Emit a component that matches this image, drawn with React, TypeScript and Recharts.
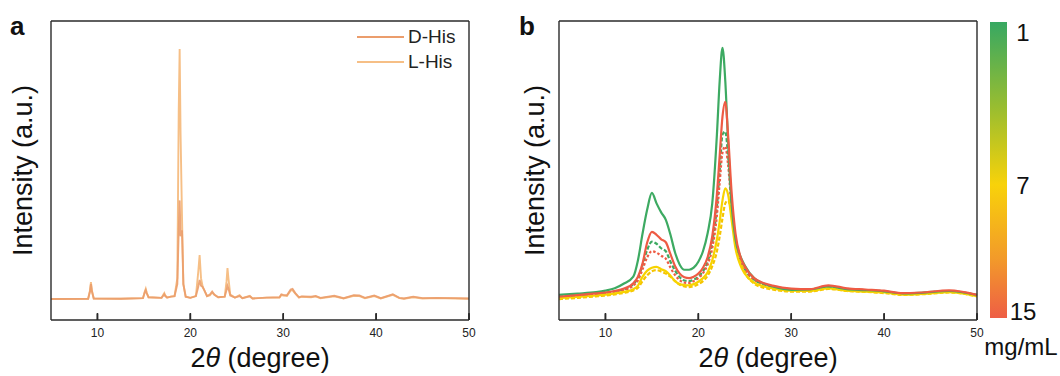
import React from 'react';
import { ComposedChart, Line, Scatter, XAxis, YAxis, Legend, Label } from 'recharts';

const FONT = '"Liberation Sans", Arial, sans-serif';
const FRAME = '#2a2a2a';

// ---- panel a: powder XRD, D-His vs L-His ----
const thetaA = [
  5, 9.0, 9.2, 9.3, 9.4, 9.6, 12.5, 14.9, 15.1, 15.2, 15.3, 15.5, 16.9, 17.1, 17.2, 17.3, 17.5, 17.9,
  18.3, 18.6, 18.75, 18.85, 18.95, 19.1, 19.25, 19.5, 20.0, 20.6, 20.85, 21.0, 21.15, 21.35, 21.5,
  21.8, 22.1, 22.35, 22.6, 23.0, 23.7, 23.9, 24.0, 24.1, 24.3, 24.8, 25.3, 25.6, 26.4, 26.7, 28.2,
  29.6, 29.8, 30.0, 30.4, 30.8, 31.0, 31.3, 31.7, 32.0, 33.0, 33.5, 34.0, 35.5, 36.5, 37.6, 38.2,
  38.8, 39.8, 40.5, 41.8, 42.5, 43.0, 44.0, 45.0, 46.5, 48.5, 50,
];
const dHis = [
  7.0, 7.1, 9.5, 12, 9.6, 7.2, 7.1, 7.3, 9.3, 10.0, 9.0, 7.6, 7.4, 8.2, 8.6, 8.0, 7.5, 7.8,
  8, 12, 30, 40, 28, 30, 12, 7.8, 7.4, 8, 11, 13.4, 11.5, 11, 10,
  8, 8.5, 9.5, 8.4, 7.6, 7.8, 10, 11.4, 10.5, 8.2, 7.5, 8.0, 7.3, 7.9, 7.2, 7.5,
  7.6, 8.6, 8.4, 8.3, 10.2, 10.4, 9.0, 7.6, 7.9, 7.8, 8.0, 7.4, 8.1, 7.3, 8.3, 8.2,
  7.4, 8.2, 7.3, 8.6, 7.4, 7.2, 7.8, 7.3, 7.4, 7.3, 7.2,
];
const lHis = [
  7.0, 7.1, 10, 12.7, 10, 7.2, 7.1, 7.3, 9.5, 10.4, 9.2, 7.6, 7.4, 8.5, 9.0, 8.2, 7.5, 7.8,
  8, 14, 70, 90.6, 62, 35, 12, 7.8, 7.4, 8, 16, 21.7, 14, 10.8, 10,
  8, 8.2, 9.2, 8.4, 7.6, 7.8, 13, 17.4, 14, 8.5, 7.5, 8.3, 7.3, 8.1, 7.2, 7.5,
  7.5, 8.4, 8.2, 8.0, 9.8, 10, 8.8, 7.5, 7.8, 7.6, 7.9, 7.3, 7.9, 7.2, 8.1, 8.0,
  7.3, 8.0, 7.2, 8.4, 7.3, 7.1, 7.6, 7.2, 7.3, 7.2, 7.1,
];

// ---- panel b: concentration series (1, 7, 15 mg/mL ...) ----
const thetaB = [
  5, 7, 9, 10, 11, 12, 13, 13.5, 14, 14.5, 15, 15.5, 16, 16.5, 17, 17.5, 18, 18.5, 19, 19.5, 20,
  20.5, 21, 21.5, 22, 22.3, 22.6, 22.9, 23.2, 23.6, 24, 24.5, 25, 26, 27, 28, 30, 32, 34, 36, 38,
  40, 42, 44, 47, 50,
];
const greenSolid = [
  8.4, 8.8, 9.3, 9.8, 10.6, 12.2, 14.5, 20, 29, 37, 42.5, 39, 36, 33.5, 28.5, 22.5, 18.5, 16.8, 16.8, 17.5, 19.5,
  23, 29, 39, 62, 80, 91, 80, 60, 38, 27, 21.5, 18.2, 14, 12.2, 11.2, 10.1, 10.2, 11.2, 10.3, 10,
  9.6, 8.9, 9.1, 9.7, 8.4,
];
const redSolid = [
  7.8, 8.3, 8.9, 9.2, 9.7, 10.5, 12.3, 14.5, 19, 26, 29.5, 28.5, 27, 26, 22, 18, 15.5, 14.3, 14, 14.5, 15.5,
  17.5, 21, 28, 42, 55, 68, 73, 62, 42, 29, 21.5, 18, 14, 12.4, 11.5, 10.5, 10.3, 11.6, 10.6, 10.2,
  9.8, 9.0, 9.2, 9.9, 8.4,
];
const greenDash = [
  7.8, 8.2, 8.8, 9.1, 9.6, 10.3, 12, 14, 18.5, 23.5, 26.2, 25.5, 24, 23, 19.5, 16.5, 14.3, 13.2, 13, 13.5, 14.5,
  16.3, 19.5, 26, 38, 50, 62, 63, 55, 38, 27, 20.5, 17, 13.5, 12, 11.2, 10.2, 10, 11, 10.2, 9.8,
  9.4, 8.7, 8.9, 9.5, 8.2,
];
const redDot = [
  7.6, 8.0, 8.6, 8.9, 9.3, 10, 11.5, 13.2, 17, 21, 23, 22.5, 21.5, 20.5, 17.5, 15, 13.3, 12.5, 12.4, 13, 14,
  15.7, 18.5, 24, 35, 46, 56, 58, 52, 37, 26.5, 20.5, 17, 13.5, 12, 11.3, 10.3, 10.1, 11.3, 10.4, 10,
  9.6, 8.8, 9, 9.7, 8.3,
];
const yellowSolid = [
  7.3, 7.7, 8.2, 8.5, 8.9, 9.4, 10.3, 11.5, 14.5, 16.5, 17.5, 17.8, 17, 16.3, 14.8, 13, 12, 11.7, 11.6, 12, 12.8,
  14, 16, 20, 27, 33, 40, 44, 42, 33, 24, 18.5, 15.5, 12.5, 11.3, 10.6, 9.8, 9.7, 10.6, 9.8, 9.5,
  9.2, 8.5, 8.7, 9.3, 8.0,
];
const yellowDash = [
  7.0, 7.4, 7.9, 8.2, 8.6, 9.1, 9.9, 10.8, 13, 15, 16.3, 16.7, 16.2, 15.5, 14.5, 13, 11.8, 11.2, 11, 11.3, 12,
  13, 14.8, 18, 23, 28, 34, 39, 40, 35, 27, 20, 16, 12.2, 10.8, 10.2, 9.5, 9.5, 10.4, 9.7, 9.4,
  9.0, 8.4, 8.6, 9.2, 7.9,
];

const xTicks = [10, 20, 30, 40, 50];
const barLabels = ['1', '7', '15'];

const dataA = thetaA.map((x, i) => ({ x, d: dHis[i], l: lHis[i] }));
const dataB = thetaB.map((x, i) => ({
  x,
  gd: greenDash[i],
  rd: redDot[i],
  yd: yellowDash[i],
  ys: yellowSolid[i],
  gs: greenSolid[i],
  rs: redSolid[i],
}));
// inward tick marks sit on the bottom frame (y = 0)
const tickMarks = xTicks.map((x) => ({ x, y: 0 }));

const seriesB = [
  { key: 'gd', color: '#3DAA62', dash: '4 2' },
  { key: 'rd', color: '#EE5B44', dash: '2.5 2' },
  { key: 'yd', color: '#F5C400', dash: '4 2' },
  { key: 'ys', color: '#F7D300', dash: undefined },
  { key: 'gs', color: '#3DAA62', dash: undefined },
  { key: 'rs', color: '#EE5B44', dash: undefined },
];

const TickLabel = (props: any) => {
  const { x, y, payload } = props;
  return (
    <text x={x} y={y + 17} textAnchor="middle" fontSize={12} fill="#222" fontFamily={FONT}>
      {payload.value}
    </text>
  );
};

const TickMark = (props: any) => {
  const { cx, cy } = props;
  return <rect x={cx - 0.8} y={cy - 7} width={1.6} height={7} fill={FRAME} />;
};

const xTitle = (p: any) => {
  const { x, y, width } = p.viewBox;
  return (
    <text x={x + width / 2} y={y + 47} textAnchor="middle" fontSize={27} fill="#111" fontFamily={FONT}>
      2<tspan fontStyle="italic">θ</tspan> (degree)
    </text>
  );
};

const yTitle = (shift: number) => (p: any) => {
  const { x, y, width, height } = p.viewBox;
  const cx = x + width - shift;
  const cy = y + height / 2;
  return (
    <text
      x={cx}
      y={cy}
      transform={`rotate(-90 ${cx} ${cy})`}
      textAnchor="middle"
      fontSize={27}
      fill="#111"
      fontFamily={FONT}
    >
      Intensity (a.u.)
    </text>
  );
};

const LegendBox = (props: any) => (
  <div style={{ fontFamily: FONT, fontSize: 19, color: '#222' }}>
    {[...props.payload]
      .filter((e: any) => e.value === 'D-His' || e.value === 'L-His')
      .sort((a: any, b: any) => String(a.value).localeCompare(String(b.value)))
      .map((e: any) => (
        <div key={e.value} style={{ display: 'flex', alignItems: 'center', height: 25 }}>
          <div style={{ width: 47, height: 2, background: e.color, marginRight: 4 }} />
          <span>{e.value}</span>
        </div>
      ))}
  </div>
);

const axisLine = { stroke: FRAME, strokeWidth: 1.4 };

// frame (four axis lines), inward x ticks and axis titles shared by both panels
function frame(yShift: number) {
  return [
    <XAxis
      key="xb"
      dataKey="x"
      type="number"
      domain={[5, 50]}
      ticks={xTicks}
      height={1}
      tickSize={-6}
      tickMargin={6}
      tickLine={{ stroke: FRAME, strokeWidth: 1.5 }}
      tick={TickLabel}
      axisLine={axisLine}
    >
      <Label content={xTitle} />
    </XAxis>,
    <XAxis key="xt" xAxisId="top" orientation="top" dataKey="x" type="number" domain={[5, 50]} height={1} tick={false} tickLine={false} axisLine={axisLine} />,
    <YAxis key="yl" domain={[0, 100]} width={1} tick={false} tickLine={false} axisLine={axisLine}>
      <Label content={yTitle(yShift)} />
    </YAxis>,
    <YAxis key="yr" yAxisId="right" orientation="right" domain={[0, 100]} width={1} tick={false} tickLine={false} axisLine={axisLine} />,
    <Scatter key="tm" name="ticks" data={tickMarks} dataKey="y" shape={TickMark} legendType="none" isAnimationActive={false} />,
  ];
}

export default function App() {
  return (
    <div style={{ position: 'absolute', left: 0, top: 0, width: 1060, height: 376, background: '#fff' }}>
      <div style={{ position: 'absolute', left: 0, top: 0 }}>
        <ComposedChart width={480} height={376} data={dataA} margin={{ top: 20, right: 10, bottom: 55, left: 50 }}>
          {frame(19)}
          <Legend
            layout="vertical"
            align="center"
            verticalAlign="middle"
            content={LegendBox}
            wrapperStyle={{ top: 24, left: 357, width: 'auto', height: 'auto' }}
          />
          <Line dataKey="l" name="L-His" type="linear" stroke="#F6BF86" strokeWidth={1.9} dot={false} isAnimationActive={false} />
          <Line dataKey="d" name="D-His" type="linear" stroke="#EB9D6C" strokeWidth={1.9} strokeOpacity={0.9} dot={false} isAnimationActive={false} />
        </ComposedChart>
      </div>
      <div style={{ position: 'absolute', left: 480, top: 0 }}>
        <ComposedChart width={520} height={376} data={dataB} margin={{ top: 20, right: 22, bottom: 55, left: 78 }}>
          {frame(15)}
          {seriesB.map((s) => (
            <Line
              key={s.key}
              dataKey={s.key}
              type="monotone"
              stroke={s.color}
              strokeWidth={2.2}
              strokeDasharray={s.dash}
              dot={false}
              isAnimationActive={false}
            />
          ))}
        </ComposedChart>
      </div>
      <svg width={1060} height={376} style={{ position: 'absolute', left: 0, top: 0, pointerEvents: 'none' }}>
        <defs>
          <linearGradient id="conc" x1="0" y1="0" x2="0" y2="1">
            <stop offset="0%" stopColor="#37A862" />
            <stop offset="30%" stopColor="#9DBE2E" />
            <stop offset="55%" stopColor="#F8D20A" />
            <stop offset="80%" stopColor="#F29A2A" />
            <stop offset="100%" stopColor="#EE5E45" />
          </linearGradient>
        </defs>
        <text x={10} y={35} fontSize={26} fontWeight="bold" fontFamily={FONT} fill="#111">a</text>
        <text x={519} y={35} fontSize={26} fontWeight="bold" fontFamily={FONT} fill="#111">b</text>
        <rect x={990} y={22} width={17} height={296} fill="url(#conc)" />
        <text x={1023} y={41} textAnchor="middle" fontSize={24} fontFamily={FONT} fill="#111">{barLabels[0]}</text>
        <text x={1023} y={194} textAnchor="middle" fontSize={24} fontFamily={FONT} fill="#111">{barLabels[1]}</text>
        <text x={1023} y={320} textAnchor="middle" fontSize={24} fontFamily={FONT} fill="#111">{barLabels[2]}</text>
        <text x={1021} y={355} textAnchor="middle" fontSize={24} fontFamily={FONT} fill="#111">mg/mL</text>
      </svg>
    </div>
  );
}
